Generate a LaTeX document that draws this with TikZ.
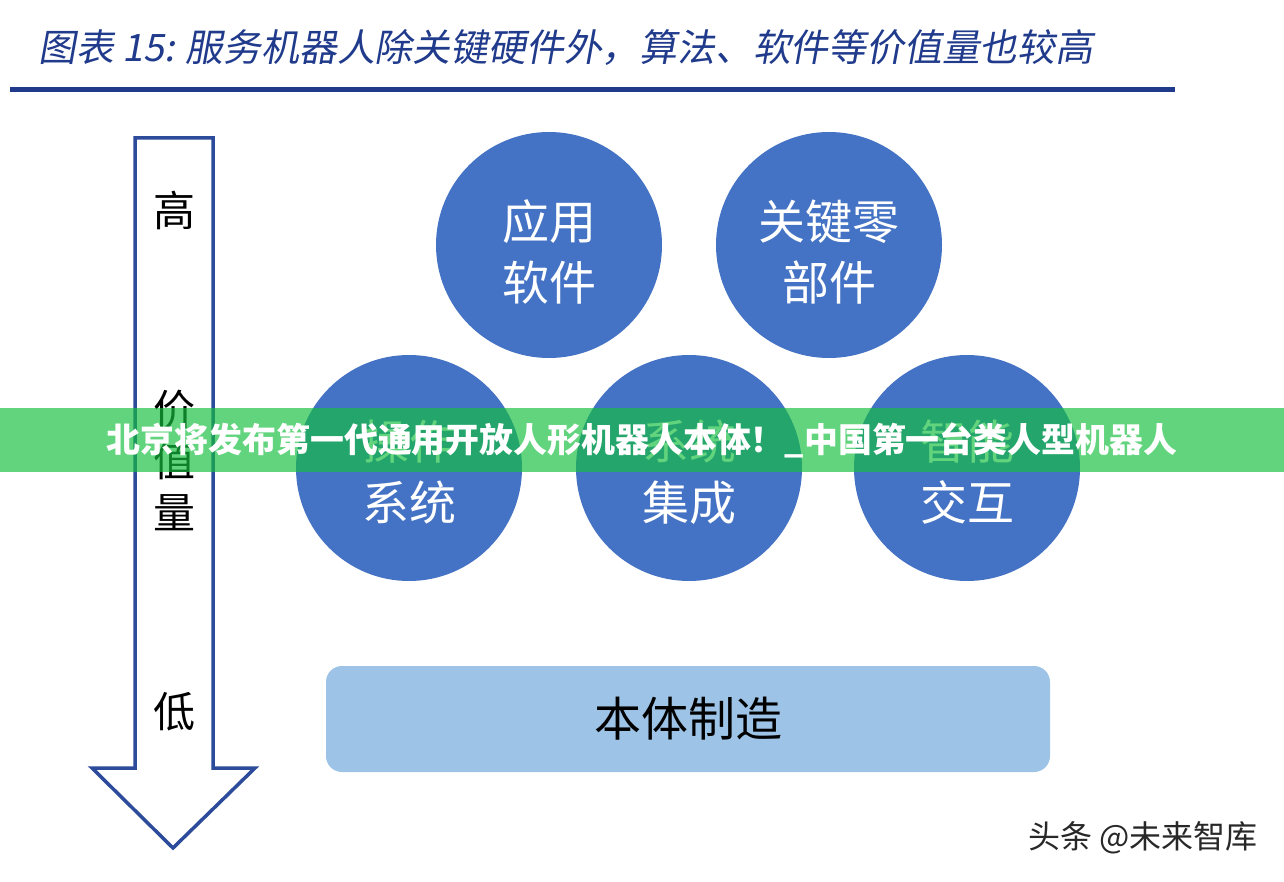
\documentclass[tikz,border=0pt]{standalone}
\usepackage{fontspec}
\setmainfont{Noto Sans CJK SC}
\newfontfamily\cjk{Noto Sans CJK SC}
\newfontfamily\cjktitle{Noto Sans CJK SC}[FakeSlant=0.18]
\usetikzlibrary{shapes.geometric}
\definecolor{navy}{RGB}{32,58,140}
\definecolor{arrowblue}{RGB}{45,75,155}
\definecolor{circblue}{RGB}{68,114,196}
\definecolor{boxblue}{RGB}{157,195,230}
\definecolor{bannergreen}{RGB}{21,191,64}
\definecolor{wmgray}{RGB}{40,40,40}
\tikzset{
  bubble/.style={circle, fill=circblue, minimum size=226pt, inner sep=0pt},
  btext/.style={text=white, align=center, inner sep=0pt, font=\cjk\fontsize{47}{61}\selectfont},
  vchar/.style={font=\cjk\fontsize{42}{42}\selectfont, text=black, inner sep=0pt},
  basebox/.style={rectangle, rounded corners=16pt, fill=boxblue, minimum width=724pt, minimum height=106pt, inner sep=0pt, font=\cjk\fontsize{47}{47}\selectfont, text=black},
}
\begin{document}
\begin{tikzpicture}[x=1pt,y=-1pt]
\useasboundingbox (0,0) rectangle (1284,882);
\fill[white] (0,0) rectangle (1284,882);
% title
\node[anchor=west, inner sep=0pt, text=navy, font=\cjktitle\fontsize{37.8}{37.8}\selectfont] (title) at (38,48) {图表 15: 服务机器人除关键硬件外，算法、软件等价值量也较高};
\coordinate (ruleL) at (10,90);
\coordinate (ruleR) at (1175,90);
\draw[navy, line width=5pt] (ruleL) -- (ruleR);
% value arrow
\draw[arrowblue, line width=3.5pt, fill=white, line join=miter]
  (135,138) -- (213,138) -- (213,768) -- (255,768) -- (173,848) -- (92,768) -- (135,768) -- cycle;
\node[vchar] (gao) at (174,210) {高};
\node[vchar] (jia) at (174,410) {价};
\node[vchar] (zhi) at (174,461) {值};
\node[vchar] (liang) at (174,513) {量};
\node[vchar] (di) at (174,712) {低};
% circles
\node[bubble] (app) at (549,245) {};
\node[bubble] (parts) at (829,245) {};
\node[bubble] (os) at (409,468) {};
\node[bubble] (integ) at (689,468) {};
\node[bubble] (inter) at (967,468) {};
\node[btext] (appT) at ([yshift=-7pt]app.center) {应用\\软件};
\node[btext] (partsT) at ([yshift=-7pt]parts.center) {关键零\\部件};
\node[btext] (osT) at ([yshift=-4pt]os.center) {操作\\系统};
\node[btext] (integT) at ([yshift=-4pt]integ.center) {系统\\集成};
\node[btext] (interT) at ([yshift=-4pt]inter.center) {智能\\交互};
% base box
\node[basebox] (body) at (688,719) {本体制造};
% watermark
\node[anchor=east, inner sep=0pt, text=wmgray, font=\cjk\fontsize{32}{32}\selectfont] (wm) at (1258,838) {头条 @未来智库};
% banner overlay
\fill[bannergreen, opacity=0.67] (0,408) rectangle (1284,472);
\node[inner sep=0pt, text=white, font=\cjk\bfseries\fontsize{33.9}{33.9}\selectfont] (banner) at (642,440) {北京将发布第一代通用开放人形机器人本体！\_中国第一台类人型机器人};
\end{tikzpicture}
\end{document}
